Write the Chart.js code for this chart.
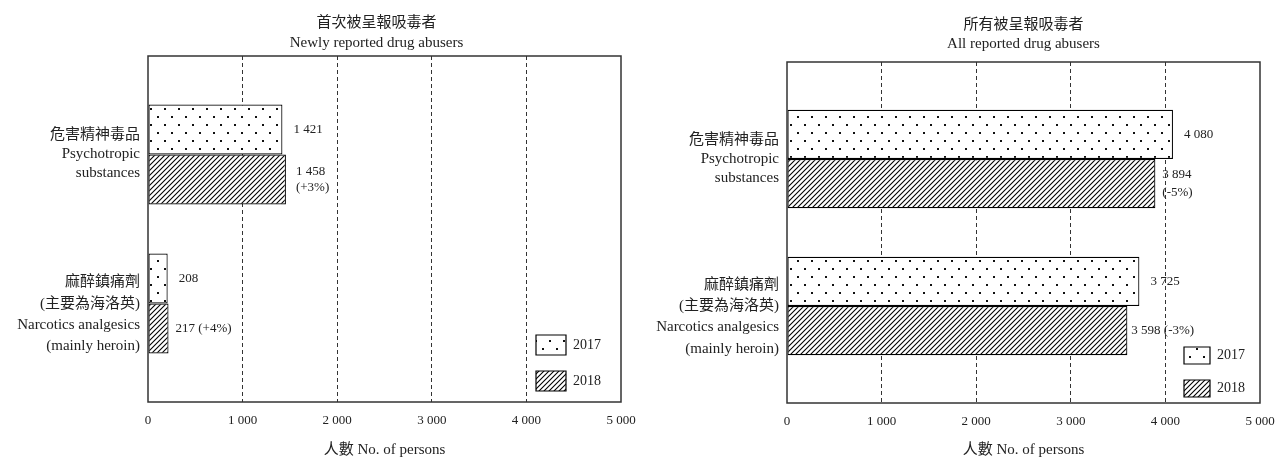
<!DOCTYPE html>
<html>
<head>
<meta charset="utf-8">
<script src="https://cdn.jsdelivr.net/npm/chart.js@4/dist/chart.umd.min.js"></script>
<style>
  html, body { margin: 0; padding: 0; background: #fff; }
  #wrap { position: relative; width: 1277px; height: 460px; overflow: hidden; }
  .panel { position: absolute; top: 0; height: 460px; }
  #p1 { left: 0; width: 640px; }
  #p2 { left: 640px; width: 637px; }
  canvas { display: block; }
</style>
</head>
<body>
<div id="wrap">
  <div class="panel" id="p1"><canvas id="c1" width="640" height="460"></canvas></div>
  <div class="panel" id="p2"><canvas id="c2" width="637" height="460"></canvas></div>
</div>
<script>
// ---- data ----
const categories = [
  ['危害精神毒品', 'Psychotropic', 'substances'],
  ['麻醉鎮痛劑', '(主要為海洛英)', 'Narcotics analgesics', '(mainly heroin)']
];
const years = ['2017', '2018'];
const newly2017 = [1421, 208];
const newly2018 = [1458, 217];
const all2017 = [4080, 3725];
const all2018 = [3894, 3598];
const xTicks = [0, 1000, 2000, 3000, 4000, 5000];
const titleNewly = ['首次被呈報吸毒者', 'Newly reported drug abusers'];
const titleAll = ['所有被呈報吸毒者', 'All reported drug abusers'];
const axisTitle = '人數 No. of persons';

// ---- helpers ----
const FAMILY = "'Liberation Serif', 'Noto Sans CJK TC', serif";
const INK = '#222';

const fmt = v => String(v).replace(/\B(?=(\d{3})+(?!\d))/g, ' ');
const change = (v, base) => {
  const p = Math.round((v - base) / base * 100);
  return '(' + (p > 0 ? '+' : '') + p + '%)';
};

function dotPattern() {
  const c = document.createElement('canvas');
  c.width = 14; c.height = 16;
  const g = c.getContext('2d');
  g.fillStyle = '#fff'; g.fillRect(0, 0, 14, 16);
  g.fillStyle = '#111';
  g.fillRect(3, 4, 2, 2);
  g.fillRect(10, 12, 2, 2);
  return g.createPattern(c, 'repeat');
}

function hatchPattern(size, lw) {
  const c = document.createElement('canvas');
  c.width = size; c.height = size;
  const g = c.getContext('2d');
  g.fillStyle = '#fff'; g.fillRect(0, 0, size, size);
  g.strokeStyle = '#000'; g.lineWidth = lw;
  g.beginPath();
  g.moveTo(0, size); g.lineTo(size, 0);
  g.moveTo(-1, 1); g.lineTo(1, -1);
  g.moveTo(size - 1, size + 1); g.lineTo(size + 1, size - 1);
  g.stroke();
  return g.createPattern(c, 'repeat');
}

const DOTS = dotPattern();
const HATCH = hatchPattern(5, 1.1);

// two-line panel heading centred over the plot area
const panelTitle = {
  id: 'panelTitle',
  afterDraw(chart, args, o) {
    const a = chart.chartArea, ctx = chart.ctx;
    ctx.save();
    ctx.font = '15px ' + FAMILY;
    ctx.fillStyle = INK;
    ctx.textAlign = 'center';
    ctx.textBaseline = 'middle';
    const x = (a.left + a.right) / 2 + o.shift;
    o.text.forEach((t, k) => ctx.fillText(t, x, o.y[k]));
    ctx.restore();
  }
};

// frame around the plot area
const frame = {
  id: 'frame',
  afterDatasetsDraw(chart) {
    const a = chart.chartArea, ctx = chart.ctx;
    ctx.save();
    ctx.strokeStyle = '#333';
    ctx.lineWidth = 1.5;
    ctx.strokeRect(a.left, a.top, a.right - a.left, a.bottom - a.top);
    ctx.restore();
  }
};

// value labels at the end of each bar
const valueLabels = {
  id: 'valueLabels',
  afterDatasetsDraw(chart, args, opts) {
    const ctx = chart.ctx;
    const sets = chart.data.datasets;
    ctx.save();
    ctx.font = '13px ' + FAMILY;
    ctx.fillStyle = INK;
    ctx.textAlign = 'left';
    ctx.textBaseline = 'middle';
    sets.forEach((ds, di) => {
      const meta = chart.getDatasetMeta(di);
      meta.data.forEach((bar, i) => {
        const v = ds.data[i].x;
        let lines, gap;
        if (di === 0) {
          lines = [fmt(v)];
          gap = opts.gapFirst;
        } else {
          const ch = change(v, sets[0].data[i].x);
          if (opts.stacked[i]) { lines = [fmt(v), ch]; gap = opts.gapStack; }
          else { lines = [fmt(v) + ' ' + ch]; gap = opts.gapInline; }
        }
        lines.forEach((t, k) => {
          ctx.fillText(t, bar.x + gap, bar.y + (k - (lines.length - 1) / 2) * opts.lineGap);
        });
      });
    });
    ctx.restore();
  }
};

// legend placed in the lower right corner of the plot area
const legendPlace = {
  id: 'legendPlace',
  afterLayout(chart, args, opts) {
    const lg = chart.legend;
    if (!lg) return;
    const a = chart.chartArea;
    const lab = chart.options.plugins.legend.labels;
    const pad = lab.padding, bh = lab.boxHeight;
    const n = chart.data.datasets.length;
    const boxLeft = a.right - opts.right;
    const lastBottom = a.bottom - opts.bottom;
    const firstTop = lastBottom - bh - (n - 1) * (bh + pad);
    lg.left = boxLeft - pad;
    lg.top = firstTop - pad;
    lg.right = a.right;
    lg.bottom = a.bottom + 200;
    lg.width = lg.right - lg.left;
    lg.height = lg.bottom - lg.top;
  }
};

function makeChart(id, title, v2017, v2018, st) {
  const toPoints = vals => categories.map((c, i) => ({ x: vals[i], y: i + 1 }));
  return new Chart(document.getElementById(id), {
    type: 'bar',
    data: {
      datasets: [
        { label: years[0], data: toPoints(v2017), backgroundColor: DOTS },
        { label: years[1], data: toPoints(v2018), backgroundColor: HATCH }
      ]
    },
    options: {
      responsive: false,
      animation: false,
      devicePixelRatio: 1,
      events: [],
      indexAxis: 'y',
      layout: { padding: { left: 0, right: st.padR, top: st.padTop, bottom: 0 } },
      datasets: {
        bar: {
          borderColor: '#000',
          borderWidth: 1.2,
          borderSkipped: false,
          barPercentage: 1,
          categoryPercentage: 0.67
        }
      },
      scales: {
        x: {
          type: 'linear',
          position: 'bottom',
          min: xTicks[0],
          max: xTicks[xTicks.length - 1],
          afterBuildTicks: s => { s.ticks = xTicks.map(v => ({ value: v })); },
          afterFit: s => { s.height = st.xAxisH; s.paddingLeft = 0; s.paddingRight = 0; },
          grid: {
            drawTicks: false,
            lineWidth: 1,
            color: c => (c.tick && (c.tick.value === xTicks[0] || c.tick.value === xTicks[xTicks.length - 1]))
              ? 'rgba(0,0,0,0)' : '#333'
          },
          border: { display: false, dash: [4, 3] },
          ticks: {
            padding: 11,
            color: INK,
            autoSkip: false,
            maxRotation: 0,
            font: { family: FAMILY, size: 13 },
            callback: v => fmt(v)
          },
          title: {
            display: true,
            text: axisTitle,
            color: INK,
            font: { family: FAMILY, size: 15 },
            padding: { top: 0, bottom: st.axisTitleBottom }
          }
        },
        y: {
          type: 'linear',
          reverse: true,
          offset: false,
          bounds: 'data',
          min: 0.34,
          max: 2.66,
          afterBuildTicks: s => { s.ticks = categories.map((c, i) => ({ value: i + 1 })); },
          afterFit: s => { s.width = st.yAxisW; s.paddingTop = 0; s.paddingBottom = 0; },
          grid: { display: false, drawTicks: false },
          border: { display: false },
          ticks: {
            autoSkip: false,
            padding: 8,
            color: INK,
            font: c => ({
              family: FAMILY,
              size: 15,
              lineHeight: (c.tick && c.tick.value === 1) ? 1.27 : 1.42
            }),
            callback: v => {
              const i = Math.round(v) - 1;
              return st.leadLine[i] ? [''].concat(categories[i]) : categories[i];
            }
          }
        }
      },
      plugins: {
        title: { display: false },
        legend: {
          display: true,
          position: 'chartArea',
          align: 'start',
          labels: {
            boxWidth: st.legendBox[0],
            boxHeight: st.legendBox[1],
            padding: 16,
            color: INK,
            font: { family: FAMILY, size: 14 }
          }
        },
        tooltip: { enabled: false },
        panelTitle: { text: title, y: st.titleY, shift: st.titleShift },
        legendPlace: st.legendPos,
        valueLabels: st.labels
      }
    },
    plugins: [legendPlace, frame, valueLabels, panelTitle]
  });
}

makeChart('c1', titleNewly, newly2017, newly2018, {
  padTop: 56, padR: 19, yAxisW: 148, xAxisH: 58, axisTitleBottom: 1,
  titleY: [23, 43], titleShift: -8,
  leadLine: [false, true],
  legendBox: [30, 20],
  legendPos: { right: 85, bottom: 11 },
  labels: { gapFirst: 11, gapStack: 10, gapInline: 7, lineGap: 16, stacked: [true, false] }
});

makeChart('c2', titleAll, all2017, all2018, {
  padTop: 62, padR: 17, yAxisW: 147, xAxisH: 57, axisTitleBottom: 1,
  titleY: [25, 44], titleShift: 0,
  leadLine: [false, true],
  legendBox: [26, 17],
  legendPos: { right: 76, bottom: 6 },
  labels: { gapFirst: 11, gapStack: 7, gapInline: 4, lineGap: 18, stacked: [true, false] }
});
</script>
</body>
</html>
